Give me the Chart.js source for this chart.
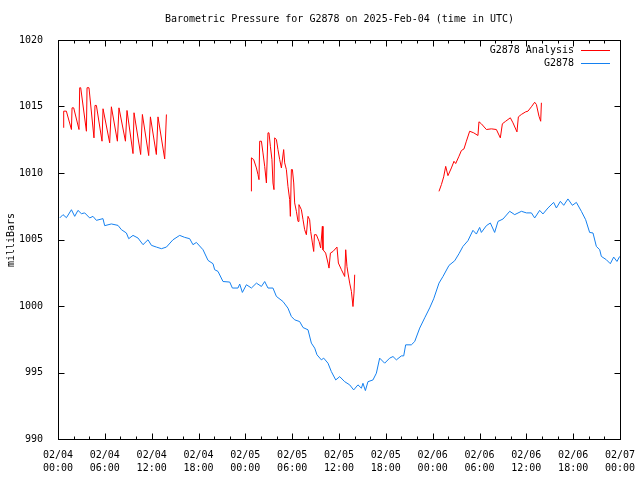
<!DOCTYPE html>
<html>
<head>
<meta charset="utf-8">
<title>Barometric Pressure for G2878</title>
<script src="https://cdn.jsdelivr.net/npm/chart.js@4.4.1/dist/chart.umd.min.js"></script>
<style>
  html, body { margin: 0; padding: 0; background: #fff; }
  #chart { display: block; }
</style>
</head>
<body>
<canvas id="chart" width="640" height="480"></canvas>
<script>
// Hours since 02/04 00:00 UTC
const tickDays = ['02/04', '02/04', '02/04', '02/04', '02/05', '02/05', '02/05', '02/05', '02/06', '02/06', '02/06', '02/06', '02/07'];
const tickTimes = ['00:00', '06:00', '12:00', '18:00', '00:00', '06:00', '12:00', '18:00', '00:00', '06:00', '12:00', '18:00', '00:00'];

// G2878 station pressure (milliBars)
const blueHours = [0.22, 0.64, 1.08, 1.72, 2.14, 2.56, 3.00, 3.42, 4.06, 4.48,
  4.92, 5.76, 5.98, 6.84, 7.69, 8.12, 8.76, 9.06, 9.61, 10.25,
  10.89, 11.53, 11.97, 12.61, 13.25, 13.89, 14.73, 15.59, 16.23, 16.87,
  17.29, 17.73, 18.58, 19.22, 19.86, 20.07, 20.50, 21.14, 22.00, 22.34,
  23.06, 23.28, 23.62, 24.14, 24.78, 25.42, 26.06, 26.48, 26.90, 27.54,
  27.98, 28.82, 29.46, 29.90, 30.32, 30.96, 31.39, 32.03, 32.46, 32.89,
  33.18, 33.74, 34.04, 34.59, 35.02, 35.58, 36.09, 36.73, 37.37, 37.88,
  38.43, 38.87, 39.07, 39.38, 39.71, 40.35, 40.79, 41.21, 41.85, 42.49,
  42.92, 43.35, 43.99, 44.29, 44.54, 45.27, 45.70, 46.34, 46.98, 47.62,
  48.13, 48.81, 49.32, 50.09, 50.82, 51.37, 51.88, 52.52, 53.16, 53.60,
  54.02, 54.24, 54.88, 55.39, 55.94, 56.37, 57.01, 57.87, 58.51, 59.37,
  60.01, 60.65, 61.07, 61.71, 62.13, 62.77, 63.50, 63.85, 64.36, 64.79,
  65.33, 65.90, 66.41, 67.05, 67.60, 68.11, 68.54, 68.97, 69.40, 69.61,
  70.25, 70.76, 71.19, 71.61, 71.96];
const blueVals = [1006.62, 1006.87, 1006.64, 1007.24, 1006.74, 1007.19, 1006.94, 1007.00, 1006.62, 1006.74,
  1006.44, 1006.57, 1006.04, 1006.17, 1006.06, 1005.74, 1005.49, 1005.06, 1005.31, 1005.11,
  1004.61, 1004.98, 1004.56, 1004.43, 1004.31, 1004.43, 1004.98, 1005.31, 1005.16, 1005.06,
  1004.61, 1004.78, 1004.23, 1003.43, 1003.18, 1002.73, 1002.60, 1001.84, 1001.80, 1001.35,
  1001.35, 1001.65, 1001.02, 1001.60, 1001.35, 1001.72, 1001.47, 1001.84, 1001.35, 1001.35,
  1000.72, 1000.34, 999.84, 999.21, 998.96, 998.83, 998.38, 998.21, 997.21, 996.83,
  996.33, 995.95, 996.08, 995.70, 995.07, 994.44, 994.69, 994.31, 994.07, 993.69,
  994.07, 993.82, 994.19, 993.64, 994.31, 994.44, 994.95, 996.08, 995.70, 996.08,
  996.20, 995.95, 996.25, 996.25, 997.08, 997.08, 997.33, 998.34, 999.11, 999.86,
  1000.54, 1001.72, 1002.22, 1003.05, 1003.40, 1003.93, 1004.48, 1004.91, 1005.69, 1005.41,
  1005.91, 1005.53, 1006.04, 1006.24, 1005.53, 1006.36, 1006.54, 1007.12, 1006.87, 1007.12,
  1007.00, 1007.00, 1006.62, 1007.19, 1006.92, 1007.37, 1007.79, 1007.37, 1007.87, 1007.57,
  1008.05, 1007.57, 1007.79, 1007.12, 1006.49, 1005.53, 1005.49, 1004.48, 1004.23, 1003.73,
  1003.48, 1003.18, 1003.68, 1003.35, 1003.73];

// G2878 Analysis, three runs
const redHours1 = [0.73, 0.73, 1.07, 1.72, 1.80, 2.01, 2.69, 2.78, 2.91, 3.64,
  3.72, 3.97, 4.61, 4.74, 4.92, 5.64, 5.77, 6.62, 6.84, 7.61,
  7.81, 8.64, 8.84, 9.61, 9.74, 10.59, 10.81, 11.62, 11.84, 12.60,
  12.81, 13.67, 13.89];
const redVals1 = [1013.40, 1014.65, 1014.65, 1013.27, 1014.90, 1014.90, 1013.27, 1016.41, 1016.41, 1013.14,
  1016.41, 1016.41, 1012.64, 1015.08, 1015.08, 1012.39, 1014.83, 1012.27, 1014.98, 1012.39,
  1014.90, 1012.39, 1014.70, 1011.46, 1014.53, 1011.39, 1014.40, 1011.31, 1014.22, 1011.39,
  1014.22, 1011.06, 1014.40];

const redHours2 = [24.78, 24.78, 25.07, 25.42, 25.62, 25.75, 25.84, 26.06, 26.26, 26.48,
  26.70, 26.90, 27.03, 27.21, 27.41, 27.54, 27.67, 27.76, 27.98, 28.18,
  28.40, 28.62, 28.91, 29.04, 29.26, 29.46, 29.68, 29.77, 29.90, 30.03,
  30.20, 30.32, 30.54, 30.75, 30.87, 31.18, 31.39, 31.60, 31.82, 32.03,
  32.24, 32.37, 32.59, 32.76, 32.85, 33.10, 33.44, 33.65, 33.87, 33.95,
  34.29, 34.59, 34.72, 34.90, 35.23, 35.74, 35.92, 36.31, 36.73, 36.86,
  37.02, 37.15, 37.37, 37.59, 37.79, 37.92, 38.01];
const redVals2 = [1008.62, 1011.14, 1011.01, 1010.38, 1009.88, 1009.50, 1012.39, 1012.39, 1011.51, 1010.50,
  1009.25, 1013.02, 1013.02, 1012.01, 1011.01, 1009.25, 1008.75, 1012.64, 1012.52, 1011.76,
  1011.01, 1010.38, 1011.76, 1010.76, 1010.26, 1009.00, 1008.00, 1006.74, 1010.26, 1010.26,
  1009.25, 1007.75, 1007.12, 1006.36, 1007.62, 1007.24, 1006.49, 1005.74, 1005.36, 1006.74,
  1006.49, 1005.61, 1004.74, 1004.10, 1005.36, 1005.36, 1004.86, 1004.36, 1005.99, 1004.23,
  1003.98, 1003.23, 1002.85, 1003.98, 1004.10, 1004.43, 1003.23, 1002.73, 1002.22, 1004.23,
  1002.97, 1002.48, 1001.72, 1001.09, 999.96, 1000.97, 1002.35];

const redHours3 = [48.81, 49.12, 49.41, 49.67, 49.96, 50.40, 50.73, 50.95, 51.37, 51.68,
  52.01, 52.32, 52.74, 53.26, 53.80, 53.93, 54.24, 54.88, 55.52, 56.16,
  56.67, 56.93, 57.35, 57.95, 58.29, 58.80, 58.98, 59.36, 59.92, 60.21,
  60.65, 61.07, 61.29, 61.62, 61.84, 61.93];
const redVals3 = [1008.62, 1009.13, 1009.71, 1010.50, 1009.80, 1010.38, 1010.88, 1010.71, 1011.26, 1011.69,
  1011.81, 1012.39, 1013.14, 1013.02, 1012.82, 1013.85, 1013.70, 1013.27, 1013.32, 1013.27,
  1012.64, 1013.70, 1013.89, 1014.15, 1013.77, 1013.09, 1014.22, 1014.40, 1014.60, 1014.65,
  1014.98, 1015.32, 1015.15, 1014.27, 1013.89, 1015.28];

const FONT = '10px "DejaVu Sans Mono", "Liberation Mono", monospace';
const RED = '#ff0000';
const BLUE = '#1480f0';

function toPoints(hours, vals) {
    return hours.map((h, i) => ({ x: h, y: vals[i] }));
}

// null points break the analysis line between runs
const redPoints = [
    ...toPoints(redHours1, redVals1),
    { x: 19, y: null },
    ...toPoints(redHours2, redVals2),
    { x: 43, y: null },
    ...toPoints(redHours3, redVals3)
];

// Box, inward tics on all four sides, title, y label and legend
const framePlugin = {
    id: 'frame',
    afterDraw(chart) {
        const ctx = chart.ctx;
        const area = chart.chartArea;
        const xs = chart.scales.x;
        const ys = chart.scales.y;
        const L = Math.round(area.left) + 0.5;
        const R = Math.round(area.right) + 0.5;
        const T = Math.round(area.top) + 0.5;
        const B = Math.round(area.bottom) + 0.5;

        ctx.save();
        ctx.strokeStyle = '#000';
        ctx.lineWidth = 1;
        ctx.strokeRect(L, T, R - L, B - T);

        ctx.beginPath();
        for (let h = 0; h <= 72; h += 2) {
            const px = Math.round(xs.getPixelForValue(h)) + 0.5;
            const len = h % 6 === 0 ? 6 : 3;
            ctx.moveTo(px, B); ctx.lineTo(px, B - len);
            ctx.moveTo(px, T); ctx.lineTo(px, T + len);
        }
        for (let v = 990; v <= 1020; v += 5) {
            const py = Math.round(ys.getPixelForValue(v)) + 0.5;
            ctx.moveTo(L, py); ctx.lineTo(L + 6, py);
            ctx.moveTo(R, py); ctx.lineTo(R - 6, py);
        }
        ctx.stroke();

        ctx.font = FONT;
        ctx.fillStyle = '#000';
        ctx.textBaseline = 'middle';

        ctx.textAlign = 'center';
        ctx.fillText('Barometric Pressure for G2878 on 2025-Feb-04 (time in UTC)', (L + R) / 2, 19);

        ctx.save();
        ctx.translate(11, 240);
        ctx.rotate(-Math.PI / 2);
        ctx.fillText('milliBars', 0, 0);
        ctx.restore();

        const legend = [['G2878 Analysis', RED, 50], ['G2878', BLUE, 63]];
        ctx.textAlign = 'right';
        legend.forEach(([label, color, y]) => {
            ctx.fillStyle = '#000';
            ctx.fillText(label, 574, y);
            ctx.strokeStyle = color;
            ctx.beginPath();
            ctx.moveTo(581, y + 0.5);
            ctx.lineTo(610, y + 0.5);
            ctx.stroke();
        });
        ctx.restore();
    }
};

const ctx = document.getElementById('chart').getContext('2d');
const chart = new Chart(ctx, {
    type: 'line',
    data: {
        datasets: [
            {
                label: 'G2878 Analysis',
                data: redPoints,
                borderColor: RED,
                borderWidth: 1,
                pointRadius: 0,
                tension: 0,
                spanGaps: false
            },
            {
                label: 'G2878',
                data: toPoints(blueHours, blueVals),
                borderColor: BLUE,
                borderWidth: 1,
                pointRadius: 0,
                tension: 0
            }
        ]
    },
    options: {
        responsive: false,
        animation: false,
        devicePixelRatio: 1,
        layout: {
            padding: { top: 40, right: 20, left: 0, bottom: 0 }
        },
        scales: {
            x: {
                type: 'linear',
                min: 0,
                max: 72,
                grid: { display: false },
                border: { display: false },
                afterFit: s => {
                    s.height = 41;
                    s.paddingLeft = 0;
                    s.paddingRight = 0;
                },
                ticks: {
                    stepSize: 6,
                    autoSkip: false,
                    maxRotation: 0,
                    color: '#000',
                    padding: 2,
                    font: { family: '"DejaVu Sans Mono", monospace', size: 10, lineHeight: 1.3 },
                    callback: (value) => {
                        const i = Math.round(value / 6);
                        return [tickDays[i], tickTimes[i]];
                    }
                }
            },
            y: {
                min: 990,
                max: 1020,
                grid: { display: false },
                border: { display: false },
                afterFit: s => {
                    s.width = 58;
                    s.paddingTop = 0;
                    s.paddingBottom = 0;
                },
                ticks: {
                    stepSize: 5,
                    color: '#000',
                    padding: 7,
                    font: { family: '"DejaVu Sans Mono", monospace', size: 10 },
                    callback: (value) => String(value)
                }
            }
        },
        plugins: {
            legend: { display: false },
            title: { display: false },
            tooltip: { enabled: false }
        }
    },
    plugins: [framePlugin]
});
</script>
</body>
</html>
